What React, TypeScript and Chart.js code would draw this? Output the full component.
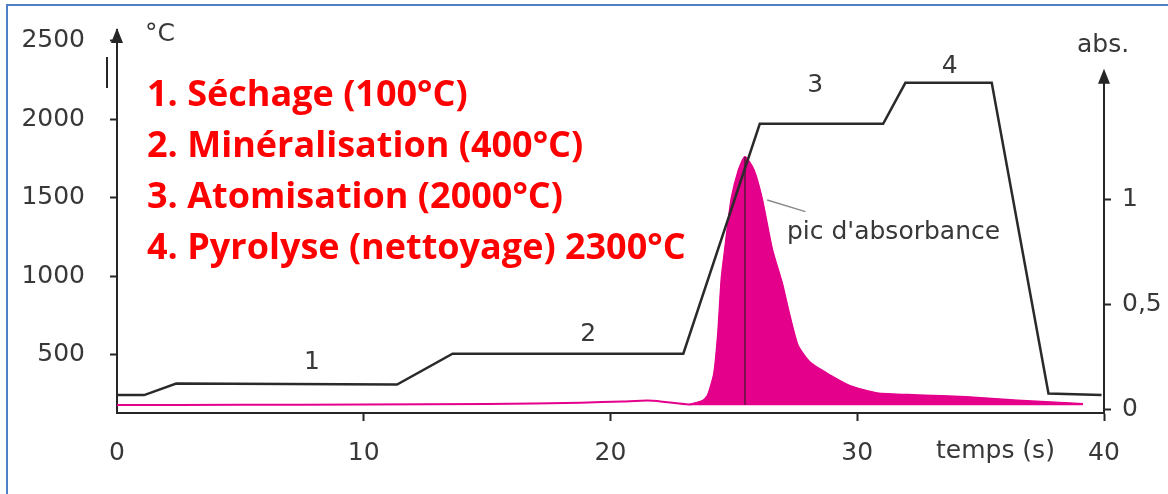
import { useEffect, useRef } from "react";
import { Chart, registerables } from "chart.js";

Chart.register(...registerables);

// ---- data ----
const X_TICKS = [0, 10, 20, 30, 40];
const LEFT_TICKS = [500, 1000, 1500, 2000, 2500];
const RIGHT_TICKS = [0, 0.5, 1];
const RIGHT_TICK_LABELS = ["0", "0,5", "1"];

// temperature programme (°C vs s)
const TEMP_TIME = [0, 1.1, 2.4, 11.35, 13.6, 22.95, 26.05, 31.05, 31.95, 35.45, 37.75, 39.9];
const TEMP_VALUE = [245, 245, 318, 312, 508, 508, 1970, 1970, 2230, 2230, 255, 245];

// absorbance signal (abs vs s)
const ABS_TIME = [0, 5, 10, 15, 18.8, 20.5, 21.5, 22.1, 23.2, 23.75, 23.95, 24.2, 24.36, 24.5, 24.64, 24.9, 25.2, 25.45, 25.8, 26.14, 26.55, 26.95, 27.27, 27.6, 28.1, 28.9, 29.7, 30.8, 32.4, 34.4, 36.5, 39.15];
const ABS_VALUE = [0.019, 0.02, 0.021, 0.024, 0.03, 0.036, 0.04, 0.035, 0.022, 0.04, 0.067, 0.17, 0.36, 0.62, 0.76, 1.0, 1.14, 1.2, 1.14, 1.0, 0.76, 0.6, 0.44, 0.3, 0.22, 0.16, 0.11, 0.075, 0.066, 0.057, 0.04, 0.024];
const ABS_FILL_FROM = 23.2;
const ABS_FILL_BASE = 0.018;

// peak marker and leader line
const PEAK_TIME = [25.45, 25.45];
const PEAK_ABS = [1.2, 0.02];
const LEADER_TIME = [26.35, 27.9];
const LEADER_ABS = [0.995, 0.94];

// stage numbers on the temperature curve
const STAGE_LABELS = ["1", "2", "3", "4"];
const STAGE_TIME = [7.9, 19.1, 28.3, 33.75];
const STAGE_TEMP = [455, 627, 2216, 2331];

const PEAK_LABEL = "pic d'absorbance";
const PEAK_LABEL_TIME = 27.15;
const PEAK_LABEL_ABS = 0.84;

const STEPS = [
  "1. Séchage (100°C)",
  "2. Minéralisation (400°C)",
  "3. Atomisation (2000°C)",
  "4. Pyrolyse (nettoyage) 2300°C",
];

const AXIS = "#262626";
const TEXT = "#383838";
const PINK = "#E4008B";
const FONT = "DejaVu Sans";

const decorations = {
  id: "decorations",
  afterDraw(chart: any) {
    const ctx = chart.ctx;
    const x = chart.scales.x;
    const y = chart.scales.y;
    const y1 = chart.scales.y1;
    const area = chart.chartArea;
    ctx.save();

    // blue frame (top + left)
    ctx.strokeStyle = "#4f7fc4";
    ctx.lineWidth = 2;
    ctx.beginPath();
    ctx.moveTo(6, 5);
    ctx.lineTo(chart.width, 5);
    ctx.moveTo(7, 4);
    ctx.lineTo(7, chart.height);
    ctx.stroke();

    // left axis arrow
    ctx.fillStyle = AXIS;
    const lx = area.left;
    ctx.beginPath();
    ctx.moveTo(lx, area.top - 2);
    ctx.lineTo(lx - 6, area.top + 13);
    ctx.lineTo(lx + 6, area.top + 13);
    ctx.closePath();
    ctx.fill();

    // right axis line + arrow
    const rx = area.right;
    const rTop = y1.getPixelForValue(1.62);
    ctx.strokeStyle = AXIS;
    ctx.lineWidth = 2;
    ctx.beginPath();
    ctx.moveTo(rx, area.bottom);
    ctx.lineTo(rx, rTop + 10);
    ctx.stroke();
    ctx.beginPath();
    ctx.moveTo(rx, rTop);
    ctx.lineTo(rx - 6, rTop + 15);
    ctx.lineTo(rx + 6, rTop + 15);
    ctx.closePath();
    ctx.fill();

    // small stray mark left of the axis
    ctx.beginPath();
    ctx.moveTo(lx - 10, area.top + 27);
    ctx.lineTo(lx - 10, area.top + 58);
    ctx.stroke();

    // axis titles
    ctx.fillStyle = TEXT;
    ctx.font = `25px "${FONT}"`;
    ctx.textBaseline = "middle";
    ctx.textAlign = "left";
    ctx.fillText("°C", lx + 28, area.top + 4);
    ctx.fillText("abs.", rx - 27, area.top + 15);
    ctx.textAlign = "center";
    ctx.fillText("temps (s)", x.getPixelForValue(35.6), area.bottom + 38);

    // stage numbers
    for (let i = 0; i < STAGE_LABELS.length; i++) {
      ctx.fillText(STAGE_LABELS[i], x.getPixelForValue(STAGE_TIME[i]), y.getPixelForValue(STAGE_TEMP[i]));
    }
    ctx.textAlign = "left";
    ctx.fillText(PEAK_LABEL, x.getPixelForValue(PEAK_LABEL_TIME), y1.getPixelForValue(PEAK_LABEL_ABS));

    // red legend text
    ctx.fillStyle = "#FF0000";
    ctx.font = `bold 36px "Open Sans"`;
    ctx.textBaseline = "alphabetic";
    for (let i = 0; i < STEPS.length; i++) {
      ctx.fillText(STEPS[i], lx + 30, area.top + 76 + i * 51);
    }
    ctx.restore();
  },
};

export default function App() {
  const ref = useRef<HTMLCanvasElement | null>(null);

  useEffect(() => {
    if (!ref.current) return;
    const tempData = TEMP_TIME.map((t, i) => ({ x: t, y: TEMP_VALUE[i] }));
    const absData = ABS_TIME.map((t, i) => ({ x: t, y: ABS_VALUE[i] }));
    const absFill = absData.filter((p) => p.x >= ABS_FILL_FROM);
    const peak = PEAK_TIME.map((t, i) => ({ x: t, y: PEAK_ABS[i] }));
    const leader = LEADER_TIME.map((t, i) => ({ x: t, y: LEADER_ABS[i] }));

    const tickFont = { family: FONT, size: 25 };

    const chart = new Chart(ref.current, {
      type: "line",
      data: {
        datasets: [
          {
            data: tempData,
            yAxisID: "y",
            borderColor: "#2a2a2a",
            borderWidth: 2.5,
            pointRadius: 0,
            tension: 0,
            fill: false,
          },
          {
            data: peak,
            yAxisID: "y1",
            borderColor: "#3a1a2a",
            borderWidth: 1.2,
            pointRadius: 0,
            fill: false,
          },
          {
            data: leader,
            yAxisID: "y1",
            borderColor: "#8a8a8a",
            borderWidth: 1.5,
            pointRadius: 0,
            fill: false,
          },
          {
            data: absData,
            yAxisID: "y1",
            borderColor: PINK,
            borderWidth: 2,
            pointRadius: 0,
            tension: 0.2,
            fill: false,
          },
          {
            data: absFill,
            yAxisID: "y1",
            borderColor: PINK,
            backgroundColor: PINK,
            borderWidth: 1,
            pointRadius: 0,
            tension: 0.2,
            fill: { value: ABS_FILL_BASE },
          },
        ],
      },
      options: {
        responsive: false,
        animation: false,
        devicePixelRatio: 1,
        parsing: false,
        layout: { padding: { top: 30, left: 0, right: 0, bottom: 0 } },
        plugins: { legend: { display: false }, tooltip: { enabled: false } },
        scales: {
          x: {
            type: "linear",
            min: 0,
            max: 40,
            afterFit: (s: any) => {
              s.height = 81;
              s.paddingLeft = 0;
              s.paddingRight = 0;
            },
            afterBuildTicks: (s: any) => {
              s.ticks = X_TICKS.map((v) => ({ value: v }));
            },
            border: { display: true, color: AXIS, width: 2 },
            grid: {
              drawOnChartArea: false,
              drawTicks: true,
              tickLength: 8,
              tickWidth: 2,
              tickColor: (c: any) => (c.tick && c.tick.value === 0 ? "rgba(0,0,0,0)" : AXIS),
            },
            ticks: {
              font: tickFont,
              color: TEXT,
              padding: 17,
              maxRotation: 0,
              autoSkip: false,
              callback: (v: any) => String(v),
            },
          },
          y: {
            type: "linear",
            position: "left",
            min: 131,
            max: 2566,
            afterFit: (s: any) => {
              s.width = 117;
              s.paddingTop = 0;
              s.paddingBottom = 0;
            },
            afterBuildTicks: (s: any) => {
              s.ticks = LEFT_TICKS.map((v) => ({ value: v }));
            },
            border: { display: true, color: AXIS, width: 2 },
            grid: { drawOnChartArea: false, drawTicks: true, tickLength: 7, tickWidth: 2, tickColor: AXIS },
            ticks: { font: tickFont, color: TEXT, padding: 25, callback: (v: any) => String(v) },
          },
          y1: {
            type: "linear",
            position: "right",
            min: -0.019,
            max: 1.805,
            afterFit: (s: any) => {
              s.width = 64;
              s.paddingTop = 0;
              s.paddingBottom = 0;
            },
            afterBuildTicks: (s: any) => {
              s.ticks = RIGHT_TICKS.map((v) => ({ value: v }));
            },
            border: { display: false },
            grid: { drawOnChartArea: false, drawTicks: true, tickLength: 7, tickWidth: 2, tickColor: AXIS },
            ticks: {
              font: tickFont,
              color: TEXT,
              padding: 11,
              callback: (v: any) => {
                const i = RIGHT_TICKS.indexOf(Number(v));
                return i >= 0 ? RIGHT_TICK_LABELS[i] : "";
              },
            },
          },
        },
      },
      plugins: [decorations],
    } as any);

    return () => chart.destroy();
  }, []);

  return (
    <div style={{ position: "fixed", left: 0, top: 0, width: 1168, height: 494, background: "#fff" }}>
      <canvas ref={ref} width={1168} height={494} style={{ display: "block", width: 1168, height: 494 }} />
    </div>
  );
}
